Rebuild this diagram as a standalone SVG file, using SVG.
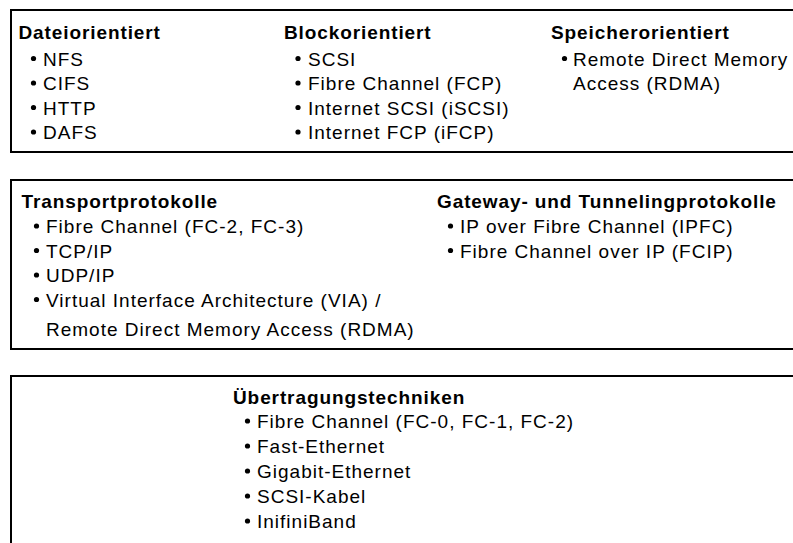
<svg xmlns="http://www.w3.org/2000/svg" width="793" height="543" viewBox="0 0 793 543">
  <style>
    .panel { fill: none; stroke: #000; stroke-width: 2; }
    .h { font-family: "Liberation Sans", Arial, sans-serif; font-weight: bold; font-size: 19px; letter-spacing: 0.9px; fill: #000; }
    .t { font-family: "Liberation Sans", Arial, sans-serif; font-size: 19px; letter-spacing: 1px; fill: #000; }
    .dot { fill: #000; }
  </style>
  <defs>
    <circle id="bullet" class="dot" r="2.6" cx="0" cy="0"/>
  </defs>
  <rect x="0" y="0" width="793" height="543" fill="#fff"/>

  <!-- Top layer: file, block and memory oriented protocols -->
  <g id="panel-top">
    <rect class="panel" x="11" y="10" width="800" height="142"/>
    <g id="col-datei">
      <text class="h" x="18.5" y="38.5">Dateiorientiert</text>
      <use href="#bullet" x="33.5" y="58.5"/><text class="t" x="43" y="65.5">NFS</text>
      <use href="#bullet" x="33.5" y="83"/><text class="t" x="43" y="90">CIFS</text>
      <use href="#bullet" x="33.5" y="107.5"/><text class="t" x="43" y="114.5">HTTP</text>
      <use href="#bullet" x="33.5" y="132"/><text class="t" x="43" y="139">DAFS</text>
    </g>
    <g id="col-block">
      <text class="h" x="284" y="38.5">Blockorientiert</text>
      <use href="#bullet" x="298" y="58.5"/><text class="t" x="308" y="65.5">SCSI</text>
      <use href="#bullet" x="298" y="83"/><text class="t" x="308" y="90">Fibre Channel (FCP)</text>
      <use href="#bullet" x="298" y="107.5"/><text class="t" x="308" y="114.5">Internet SCSI (iSCSI)</text>
      <use href="#bullet" x="298" y="132"/><text class="t" x="308" y="139">Internet FCP (iFCP)</text>
    </g>
    <g id="col-speicher">
      <text class="h" x="551" y="38.5">Speicherorientiert</text>
      <use href="#bullet" x="564.5" y="58.5"/><text class="t" x="573" y="65.5">Remote Direct Memory</text>
      <text class="t" x="573" y="90">Access (RDMA)</text>
    </g>
  </g>

  <!-- Middle layer: transport, gateway and tunneling protocols -->
  <g id="panel-middle">
    <rect class="panel" x="11" y="180" width="800" height="169"/>
    <g id="col-transport">
      <text class="h" x="21.5" y="208">Transportprotokolle</text>
      <use href="#bullet" x="36.5" y="226"/><text class="t" x="46" y="233">Fibre Channel (FC-2, FC-3)</text>
      <use href="#bullet" x="36.5" y="250.5"/><text class="t" x="46" y="257.5">TCP/IP</text>
      <use href="#bullet" x="36.5" y="275"/><text class="t" x="46" y="282">UDP/IP</text>
      <use href="#bullet" x="36.5" y="299.5"/><text class="t" x="46" y="306.5">Virtual Interface Architecture (VIA) /</text>
      <text class="t" x="46" y="336">Remote Direct Memory Access (RDMA)</text>
    </g>
    <g id="col-gateway">
      <text class="h" x="437" y="208">Gateway- und Tunnelingprotokolle</text>
      <use href="#bullet" x="450.5" y="226"/><text class="t" x="460" y="233">IP over Fibre Channel (IPFC)</text>
      <use href="#bullet" x="450.5" y="250.5"/><text class="t" x="460" y="257.5">Fibre Channel over IP (FCIP)</text>
    </g>
  </g>

  <!-- Bottom layer: transmission techniques -->
  <g id="panel-bottom">
    <rect class="panel" x="11" y="376" width="800" height="200"/>
    <g id="col-uebertragung">
      <text class="h" x="233" y="404">Übertragungstechniken</text>
      <use href="#bullet" x="247.5" y="421"/><text class="t" x="257" y="428">Fibre Channel (FC-0, FC-1, FC-2)</text>
      <use href="#bullet" x="247.5" y="446"/><text class="t" x="257" y="453">Fast-Ethernet</text>
      <use href="#bullet" x="247.5" y="471"/><text class="t" x="257" y="478">Gigabit-Ethernet</text>
      <use href="#bullet" x="247.5" y="496"/><text class="t" x="257" y="503">SCSI-Kabel</text>
      <use href="#bullet" x="247.5" y="521"/><text class="t" x="257" y="528">InifiniBand</text>
    </g>
  </g>
</svg>
